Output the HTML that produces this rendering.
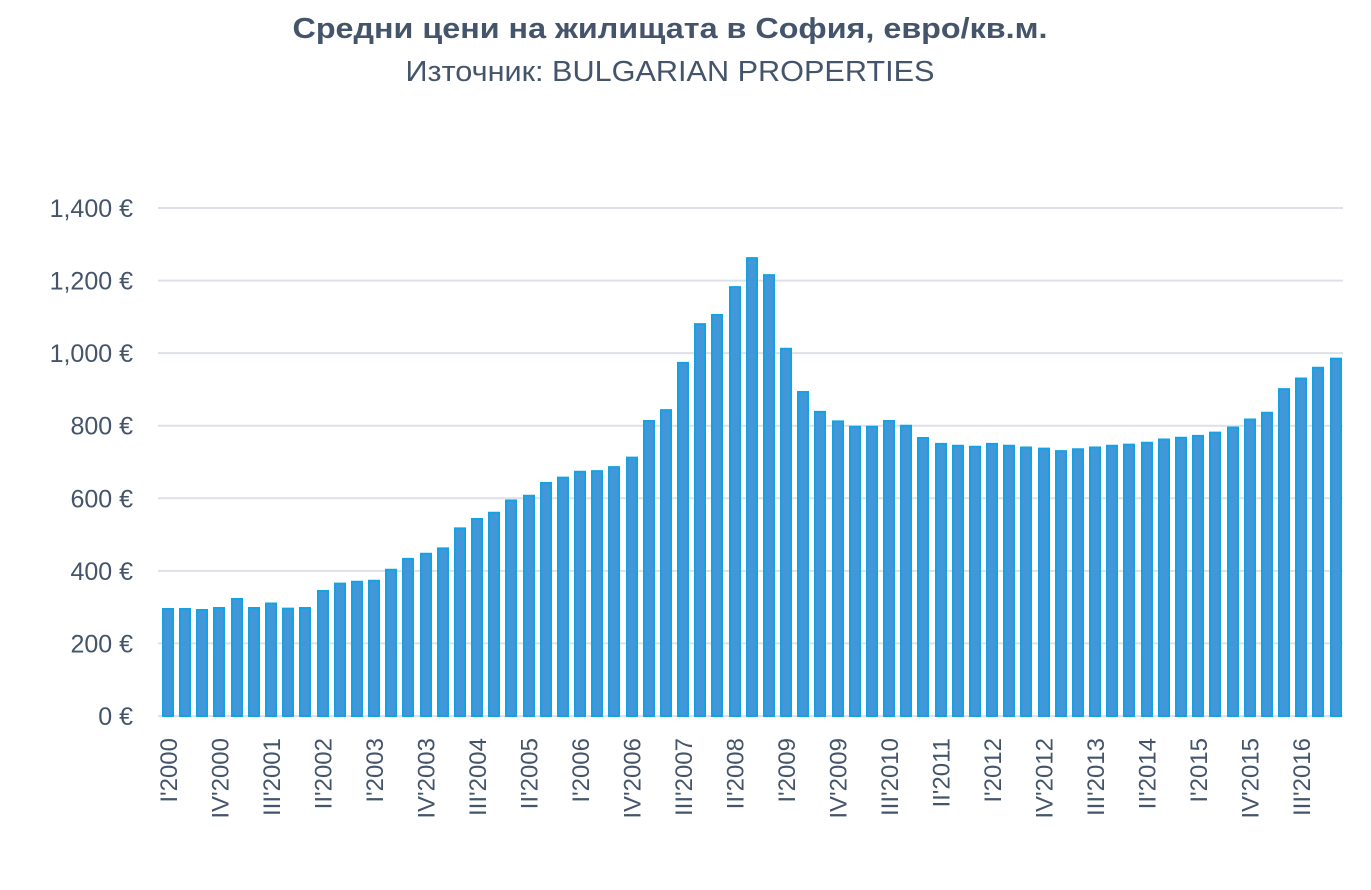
<!DOCTYPE html>
<html><head><meta charset="utf-8">
<style>
html,body{margin:0;padding:0;background:#fff;}
body{width:1371px;height:885px;overflow:hidden;font-family:"Liberation Sans","DejaVu Sans",sans-serif;}
</style></head>
<body>
<svg id="c" width="1371" height="885" xmlns="http://www.w3.org/2000/svg" font-family="Liberation Sans, DejaVu Sans, sans-serif">
<text x="670" y="38" text-anchor="middle" font-size="29" font-weight="bold" fill="#44546a" textLength="755" lengthAdjust="spacingAndGlyphs">Средни цени на жилищата в София, евро/кв.м.</text>
<text x="670" y="81" text-anchor="middle" font-size="29" fill="#44546a" textLength="529" lengthAdjust="spacingAndGlyphs">Източник: BULGARIAN PROPERTIES</text>
<g id="grid"></g>
<g fill="#4297d8" stroke="#14a2e2" stroke-width="2">
<path d="M163 716V609h10v107Z"/>
<path d="M180 716V609h10v107Z"/>
<path d="M197 716V610h10v106Z"/>
<path d="M214 716V608h10v108Z"/>
<path d="M232 716V599h10v117Z"/>
<path d="M249 716V608h10v108Z"/>
<path d="M266 716V603.5h10v112.5Z"/>
<path d="M283 716V608.6h10v107.4Z"/>
<path d="M300 716V608h10v108Z"/>
<path d="M318 716V591h10v125Z"/>
<path d="M335 716V583.6h10v132.4Z"/>
<path d="M352 716V581.7h10v134.3Z"/>
<path d="M369 716V580.7h10v135.3Z"/>
<path d="M386 716V569.8h10v146.2Z"/>
<path d="M403 716V558.9h10v157.1Z"/>
<path d="M421 716V553.8h10v162.2Z"/>
<path d="M438 716V548.4h10v167.6Z"/>
<path d="M455 716V528.4h10v187.6Z"/>
<path d="M472 716V519h10v197Z"/>
<path d="M489 716V512.8h10v203.2Z"/>
<path d="M506 716V500.5h10v215.5Z"/>
<path d="M524 716V495.7h10v220.3Z"/>
<path d="M541 716V483h10v233Z"/>
<path d="M558 716V477.6h10v238.4Z"/>
<path d="M575 716V471.8h10v244.2Z"/>
<path d="M592 716V471.1h10v244.9Z"/>
<path d="M609 716V467.1h10v248.9Z"/>
<path d="M627 716V457.6h10v258.4Z"/>
<path d="M644 716V421h10v295Z"/>
<path d="M661 716V410.1h10v305.9Z"/>
<path d="M678 716V362.9h10v353.1Z"/>
<path d="M695 716V324.1h10v391.9Z"/>
<path d="M712 716V315h10v401Z"/>
<path d="M730 716V287.1h10v428.9Z"/>
<path d="M747 716V258.1h10v457.9Z"/>
<path d="M764 716V275.1h10v440.9Z"/>
<path d="M781 716V348.8h10v367.2Z"/>
<path d="M798 716V392h10v324Z"/>
<path d="M815 716V411.9h10v304.1Z"/>
<path d="M833 716V421.4h10v294.6Z"/>
<path d="M850 716V426.8h10v289.2Z"/>
<path d="M867 716V426.8h10v289.2Z"/>
<path d="M884 716V421h10v295Z"/>
<path d="M901 716V425.7h10v290.3Z"/>
<path d="M918 716V438h10v278Z"/>
<path d="M936 716V443.9h10v272.1Z"/>
<path d="M953 716V445.7h10v270.3Z"/>
<path d="M970 716V446.8h10v269.2Z"/>
<path d="M987 716V443.9h10v272.1Z"/>
<path d="M1004 716V445.7h10v270.3Z"/>
<path d="M1021 716V447.5h10v268.5Z"/>
<path d="M1039 716V448.6h10v267.4Z"/>
<path d="M1056 716V451.1h10v264.9Z"/>
<path d="M1073 716V449.3h10v266.7Z"/>
<path d="M1090 716V447.5h10v268.5Z"/>
<path d="M1107 716V445.7h10v270.3Z"/>
<path d="M1124 716V444.6h10v271.4Z"/>
<path d="M1142 716V442.8h10v273.2Z"/>
<path d="M1159 716V439.5h10v276.5Z"/>
<path d="M1176 716V437.7h10v278.3Z"/>
<path d="M1193 716V435.9h10v280.1Z"/>
<path d="M1210 716V432.6h10v283.4Z"/>
<path d="M1228 716V427.5h10v288.5Z"/>
<path d="M1245 716V419.5h10v296.5Z"/>
<path d="M1262 716V412.7h10v303.3Z"/>
<path d="M1279 716V389.1h10v326.9Z"/>
<path d="M1296 716V378.5h10v337.5Z"/>
<path d="M1313 716V367.7h10v348.3Z"/>
<path d="M1331 716V358.6h10v357.4Z"/>
</g>
<g id="labels"></g>
</svg>
<script>
var ns="http://www.w3.org/2000/svg";
function el(t,a,p,txt){var e=document.createElementNS(ns,t);for(var k in a)e.setAttribute(k,a[k]);if(txt!==undefined)e.textContent=txt;document.getElementById(p).appendChild(e);return e;}
var y0=716,k=(716-208)/1400;
for(var v=0;v<=1400;v+=200){var y=y0-v*k;
 el('line',{x1:158,x2:1343,y1:y,y2:y,stroke:'#dde1e7','stroke-width':2},'grid');
 el('text',{x:133,y:y+9,'text-anchor':'end','font-size':25,fill:'#44546a'},'grid',(v>=1000?'1,'+String(v-1000).padStart(3,'0'):v)+' €');}
var pitch=17.17,x0=168;
var romans=['I','II','III','IV'];
for(var i=0;i<69;i+=3){var cx=x0+i*pitch;var q=romans[i%4],yr=2000+Math.floor(i/4);
  el('text',{x:0,y:0,'font-size':24,fill:'#44546a','text-anchor':'end',transform:'translate('+(cx+9)+',738) rotate(-90)'},'labels',q+"'"+yr);}
</script>
</body></html>
